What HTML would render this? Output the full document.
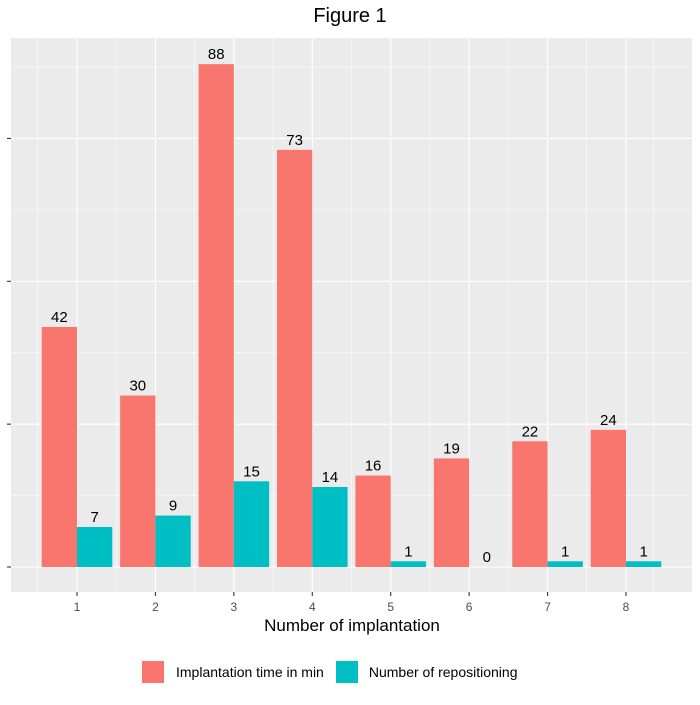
<!DOCTYPE html>
<html><head><meta charset="utf-8"><style>body{margin:0;background:#fff}svg{font-family:"Liberation Sans",sans-serif}</style></head>
<body>
<svg id="c" width="700" height="700"></svg>
<script>
const categories=[1,2,3,4,5,6,7,8];
const implantTime=[42,30,88,73,16,19,22,24];
const repositioning=[7,9,15,14,1,0,1,1];
const yTicks=[0,25,50,75];
const svg=document.getElementById('c');
const NS='http://www.w3.org/2000/svg';
function mk(t,a,p){const e=document.createElementNS(NS,t);for(const k in a)e.setAttribute(k,a[k]);(p||svg).appendChild(e);return e;}
const L=11,R=692,T=38,B=592;
const x0=77,dx=78.43;
function xs(c){return x0+(c-1)*dx;}
function ys(v){return 567-v*5.714;}
const bg=mk('rect',{x:L,y:T,width:R-L,height:B-T,fill:'#ebebeb'});


for(let i=0;i<yTicks.length;i++){
 const y=ys(yTicks[i]);
 const g=mk('line',{x1:L,x2:R,y1:y,y2:y,stroke:'#fff','stroke-width':1.1});
 
 
 const m=mk('line',{x1:L,x2:R,y1:y-12.5*5.714,y2:y-12.5*5.714,stroke:'#fff','stroke-width':0.5});
 
 
 const t=mk('line',{x1:7,x2:11,y1:y,y2:y,stroke:'#333','stroke-width':1.1});
 
 
}
for(let i=0;i<categories.length;i++){
 const x=xs(categories[i]);
 const g=mk('line',{x1:x,x2:x,y1:T,y2:B,stroke:'#fff','stroke-width':1.1});
 
 
 const m=mk('line',{x1:x-dx/2,x2:x-dx/2,y1:T,y2:B,stroke:'#fff','stroke-width':0.5});
 
 
 const t=mk('line',{x1:x,x2:x,y1:B,y2:B+4,stroke:'#333','stroke-width':1.1});
 
 
 const tl=mk('text',{x:x,y:B+19,'text-anchor':'middle','font-size':12,fill:'#4d4d4d'});
 tl.textContent=categories[i];
 
 
}
const m2=mk('line',{x1:R-dx/2+0.5,x2:R-dx/2+0.5,y1:T,y2:B,stroke:'#fff','stroke-width':0.5});
const bw=dx*0.45;
for(let i=0;i<categories.length;i++){
 const x=xs(categories[i]);
 const v1=implantTime[i],v2=repositioning[i];
 const r1=mk('rect',{x:x-bw,y:ys(v1),width:bw,height:ys(0)-ys(v1),fill:'#f8766d'});
 
 
 const r2=mk('rect',{x:x,y:ys(v2),width:bw,height:ys(0)-ys(v2),fill:'#00bfc4'});
 
 
 const l1=mk('text',{x:x-bw/2,y:ys(v1)-5,'text-anchor':'middle','font-size':15,fill:'#000'});
 l1.textContent=v1;
 
 
 const l2=mk('text',{x:x+bw/2,y:ys(v2)-5,'text-anchor':'middle','font-size':15,fill:'#000'});
 l2.textContent=v2;
 
 
}
</script>
<div style="position:absolute;left:0;top:5px;width:700px;text-align:center;font:20px 'Liberation Sans',sans-serif">Figure 1</div>
<div style="position:absolute;left:0;top:616px;width:700px;text-align:center;font:17px 'Liberation Sans',sans-serif;padding-left:4px;box-sizing:border-box">Number of implantation</div>
<div style="position:absolute;top:661px;left:142px;font:14px 'Liberation Sans',sans-serif;display:flex;align-items:center;height:22px">
<span style="width:22px;height:22px;background:#f8766d;display:inline-block"></span>
<span style="margin-left:12px">Implantation time in min</span>
<span style="width:22px;height:22px;background:#00bfc4;display:inline-block;margin-left:12px"></span>
<span style="margin-left:11px">Number of repositioning</span>
</div>
</body></html>
